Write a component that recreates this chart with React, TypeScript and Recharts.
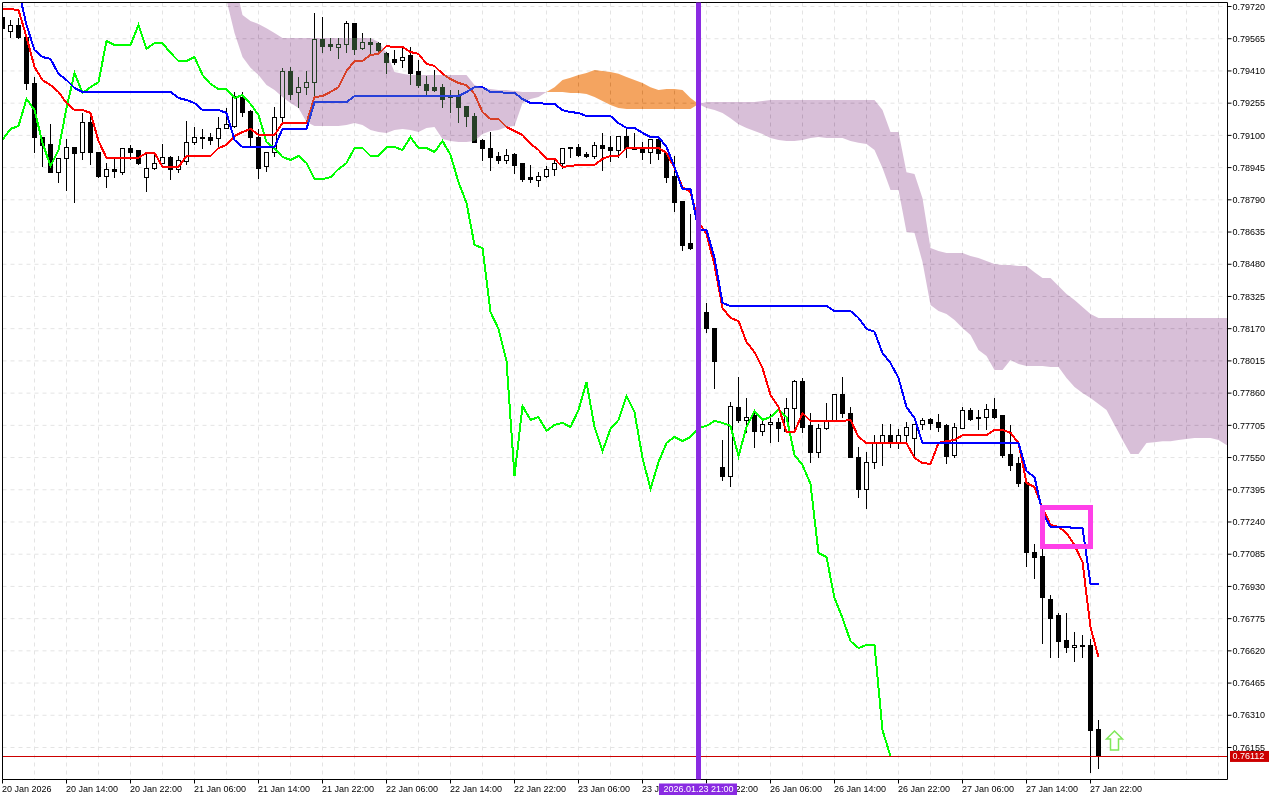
import React from 'react';
import { ComposedChart, Bar, Line, Area, XAxis, YAxis, CartesianGrid, ReferenceLine, ReferenceArea, ReferenceDot } from 'recharts';

// All prices are quoted in points (1 point = 0.00001).
const openPts = [
79665,79602,79631,79573,79352,79092,79054,78923,78987,79044,
79016,79164,79016,78904,78938,78923,79035,79025,78899,78943,
78963,78992,78938,78972,79064,79083,79088,79083,79131,79145,
79280,79217,79092,78948,79016,79188,79405,79304,79332,79356,
79559,79535,79525,79535,79636,79516,79549,79540,79492,79463,
79458,79482,79405,79347,79328,79328,79280,79294,79241,79193,
79073,79039,78996,78977,79006,78963,78899,78885,78904,78938,
78963,79035,79044,79006,78996,79049,79044,79025,79097,79039,
79039,79016,79078,79011,78904,78784,78578,78558,78250,78169,
77504,77461,77793,77726,77750,77673,77707,77721,77673,77788,
77918,77702,77576,77688,77726,77851,77764,77552,77394,77528,
77620,77654,77624,77654,77644,77707,77731,77717,77702,77562,
77692,77774,77736,77745,77779,77750,77567,77519,77428,77091,
77076,76865,76788,76672,76638,76643,76648,76244];
const closePts = [
79612,79631,79573,79352,79088,79049,78923,78987,79044,79011,
79164,79016,78904,78938,78928,79035,79020,78963,78943,78963,
78992,78938,78977,79064,79088,79088,79073,79131,79150,79285,
79212,79092,78943,79016,79188,79405,79299,79332,79356,79559,
79530,79530,79535,79636,79511,79549,79535,79506,79453,79453,
79477,79396,79342,79318,79318,79275,79294,79236,79193,79068,
79035,78992,78977,79001,78953,78890,78890,78904,78938,78967,
79035,79044,79001,78996,79049,79039,79025,79097,79035,79030,
79016,79078,79011,78899,78779,78568,78558,78250,78169,78014,
77461,77798,77726,77745,77673,77707,77721,77692,77788,77918,
77697,77576,77688,77726,77851,77764,77548,77394,77528,77620,
77654,77624,77654,77697,77707,77726,77712,77697,77557,77697,
77774,77731,77745,77779,77745,77562,77514,77423,77091,77071,
76875,76778,76667,76634,76648,76648,76239,76112];
const highPts = [
79665,79655,79660,79573,79377,79092,79150,78987,79078,79044,
79203,79212,79016,78963,78982,79039,79049,79025,79006,79006,
79054,78996,78996,79169,79136,79126,79107,79188,79227,79304,
79304,79222,79126,79016,79236,79420,79425,79377,79405,79684,
79665,79568,79568,79650,79636,79588,79568,79549,79497,79506,
79516,79525,79458,79381,79410,79347,79318,79318,79241,79203,
79078,79112,79020,79030,79011,78963,78953,78923,78948,78977,
79039,79044,79054,79020,79064,79107,79097,79097,79136,79107,
79064,79078,79092,79020,78996,78784,78717,78568,78289,78169,
77634,77817,77933,77832,77769,77740,77755,77736,77832,77923,
77928,77764,77707,77812,77851,77933,77793,77600,77576,77654,
77707,77707,77683,77721,77707,77736,77740,77755,77707,77712,
77793,77784,77774,77807,77836,77750,77702,77548,77428,77134,
77110,76884,76798,76798,76706,76696,76677,76287];
const lowPts = [
79612,79573,79564,79323,79016,78948,78923,78875,78837,78775,
78982,78958,78899,78851,78899,78914,78982,78958,78832,78938,
78963,78890,78923,78958,79054,79039,79054,79039,79131,79136,
79193,79044,78894,78928,78996,79159,79275,79232,79299,79289,
79501,79506,79468,79497,79487,79511,79492,79487,79396,79439,
79425,79347,79332,79294,79309,79232,79208,79164,79145,79068,
78977,78933,78963,78967,78919,78880,78871,78856,78899,78909,
78943,78992,78996,78992,78987,78933,78972,78992,78992,79030,
78982,78967,78982,78875,78736,78544,78553,78236,78150,77880,
77442,77413,77721,77669,77600,77654,77624,77629,77669,77673,
77669,77524,77552,77683,77726,77745,77548,77360,77303,77495,
77514,77600,77595,77624,77562,77683,77683,77673,77519,77552,
77688,77726,77683,77683,77740,77552,77490,77413,77028,76966,
76657,76590,76590,76614,76571,76586,76037,76052];

const tenkanPts = [
79708,79708,79703,79573,79429,79366,79342,79309,79256,79222,
79222,79208,79073,78992,78992,78992,78992,78992,79016,79016,
78948,78948,78948,79001,79001,79001,79001,79039,79054,79097,
79116,79131,79102,79102,79102,79159,79159,79159,79159,79285,
79289,79309,79332,79410,79458,79458,79487,79492,79530,79525,
79525,79501,79492,79444,79434,79396,79371,79352,79342,79299,
79212,79179,79179,79140,79121,79102,79059,79030,78987,78987,
78948,78953,78958,78958,78958,78987,79001,79001,79039,79039,
79039,79039,79039,79016,78943,78851,78827,78683,78626,78476,
78270,78222,78207,78106,78057,77981,77851,77793,77673,77673,
77764,77726,77726,77726,77726,77726,77731,77649,77620,77620,
77620,77620,77620,77620,77548,77524,77519,77620,77629,77634,
77658,77658,77658,77658,77683,77683,77669,77620,77428,77408,
77307,77226,77216,77187,77129,77047,76734,76590];
const kijunPts = [
79943,79895,79799,79631,79511,79477,79468,79396,79366,79328,
79309,79309,79309,79309,79309,79309,79309,79309,79309,79309,
79309,79309,79280,79270,79256,79222,79222,79222,79208,79078,
79044,79044,79044,79044,79044,79131,79131,79131,79131,79260,
79260,79260,79260,79260,79289,79289,79289,79289,79289,79289,
79289,79289,79289,79289,79289,79289,79289,79289,79309,79332,
79332,79309,79309,79304,79304,79275,79256,79256,79251,79251,
79222,79212,79208,79193,79193,79193,79193,79159,79136,79136,
79112,79092,79092,79044,78948,78841,78841,78645,78645,78510,
78294,78279,78279,78279,78279,78279,78279,78279,78279,78279,
78279,78279,78279,78279,78255,78255,78255,78222,78169,78155,
78053,78005,77933,77793,77740,77620,77620,77620,77620,77620,
77620,77620,77620,77620,77620,77620,77620,77620,77485,77456,
77284,77216,77216,77216,77211,77211,76942,76942];
const chikouPts = [
79078,79131,79145,79275,79222,79064,78953,79030,79232,79400,
79304,79332,79356,79554,79535,79535,79535,79631,79516,79544,
79544,79497,79458,79458,79477,79391,79347,79323,79323,79280,
79294,79251,79198,79068,79039,78996,78982,79001,78967,78890,
78890,78899,78938,78967,79039,79039,79001,79001,79044,79044,
79030,79092,79039,79039,79020,79073,79006,78875,78775,78573,
78558,78250,78169,78014,77461,77798,77731,77745,77678,77707,
77717,77697,77779,77913,77697,77581,77688,77731,77846,77769,
77548,77399,77528,77620,77649,77629,77649,77692,77702,77726,
77717,77702,77557,77697,77774,77731,77745,77779,77745,77562,
77514,77423,77091,77071,76875,76778,76667,76634,76648,76648,
76239,76112];

// Cloud edges: first purple stretch starts at bar 27, orange at bar 68, second purple at bar 87.
const purpleHighA = [
80136,79992,79847,79679,79650,79636,79616,79592,79568,
79568,79568,79568,79568,79568,79568,79568,79568,79568,79568,79568,
79549,79497,79405,79396,79391,79391,79391,79391,79391,79391,79391,79391,
79342,79328,79323,79318,79318,79313,79309,79309,79309,79309];
const purpleLowA = [
79871,79751,79592,79477,79425,79391,79342,79318,79285,79256,79232,79164,
79145,79145,79145,79145,79150,79159,79150,79126,79116,79112,79126,79131,
79126,79116,79136,79140,79083,79073,79068,79068,79073,79107,79121,79126,
79140,79145,79256,79275,79285,79309];
const orangeHigh = [
79309,79332,79366,79377,79391,79400,79415,79410,79405,79396,
79381,79366,79352,79332,79318,79323,79323,79318,79280,79251];
const orangeLow = [
79309,79309,79309,79304,79304,79299,79285,79265,79246,79232,
79227,79227,79227,79227,79227,79227,79227,79227,79227,79251];
const purpleHighB = [
79251,79260,79260,79260,79260,79260,79260,79260,79265,79270,
79270,79270,79270,79270,79270,79270,79270,79270,79270,79270,79270,79270,79270,
79222,79116,79116,78923,78914,78798,78558,78544,78534,78534,78534,78520,78510,
78496,78481,78476,78476,78471,78471,78442,78414,78414,78375,78337,78308,78274,78241,
78222,78222,78222,78222,78222,78222,78222,78222,78222,78222,78222,78222,78222,78222,78222,78222,78222,78222];
const purpleLowB = [
79251,79232,79222,79208,79183,79154,79136,79121,79107,79088,79078,79073,79073,79078,
79088,79092,79088,79088,79088,79073,79064,79059,79030,78943,78837,78837,78635,78630,
78491,78284,78255,78241,78212,78173,78140,78067,78038,77971,77971,78019,78000,77990,
77990,77990,77986,77986,77933,77890,77861,77837,77808,77779,77707,77634,77567,77567,
77620,77624,77629,77629,77634,77639,77644,77644,77644,77634,77610,77605];

const priceTicks = [
0.7972,0.79565,0.7941,0.79255,0.791,0.78945,0.7879,0.78635,0.7848,0.78325,0.7817,0.78015,
0.7786,0.77705,0.7755,0.77395,0.7724,0.77085,0.7693,0.76775,0.7662,0.76465,0.7631,0.76155];
const timeLabels = [
'20 Jan 2026','20 Jan 14:00','20 Jan 22:00','21 Jan 06:00','21 Jan 14:00','21 Jan 22:00',
'22 Jan 06:00','22 Jan 14:00','22 Jan 22:00','23 Jan 06:00','23 Jan 14:00','23 Jan 22:00',
'26 Jan 06:00','26 Jan 14:00','26 Jan 22:00','27 Jan 06:00','27 Jan 14:00','27 Jan 22:00'];
const timeTickBars = timeLabels.map((_, k) => k * 8);
const gridBars = Array.from({ length: 39 }, (_, k) => k * 4);

const PRICE_TOP = 0.797393;
const PRICE_BOTTOM = 0.760011;
const BAR_DOMAIN_END = 153.125;
const lastPrice = 0.76112;
const lastPriceText = '0.76112';
const markerBar = 87;
const markerText = '2026.01.23 21:00';
const arrowBar = 139;
const arrowPrice = 0.76186;
const boxBars = [130, 136];
const boxPrices = [0.7731, 0.77122];

const FONT = '"Liberation Sans", Arial, sans-serif';
const pts = (a: number[], i: number, start = 0) => {
  const v = a[i - start];
  return v === undefined ? null : v / 100000;
};
const range = (hi: number | null, lo: number | null) => (hi === null || lo === null ? null : [lo, hi]);

const rows = Array.from({ length: 155 }, (_, i) => {
  const open = pts(openPts, i), close = pts(closePts, i), high = pts(highPts, i), low = pts(lowPts, i);
  return {
    bar: i, open, close, high, low,
    candle: range(high, low),
    tenkan: pts(tenkanPts, i),
    kijun: pts(kijunPts, i),
    chikou: pts(chikouPts, i),
    purple: i <= 68 ? range(pts(purpleHighA, i, 27), pts(purpleLowA, i, 27)) : range(pts(purpleHighB, i, 87), pts(purpleLowB, i, 87)),
    orange: range(pts(orangeHigh, i, 68), pts(orangeLow, i, 68)),
  };
});

const Candle = (p: any) => {
  const { x, y, width, height, payload } = p;
  if (!payload || payload.high === null || !height) return null;
  const k = height / (payload.high - payload.low);
  const cx = Math.floor(x + width / 2) + 0.5;
  const yOf = (v: number) => Math.round(y + (payload.high - v) * k - 0.5) + 0.5;
  const hi = yOf(payload.high), lo = yOf(payload.low);
  const top = yOf(Math.max(payload.open, payload.close));
  const bot = yOf(Math.min(payload.open, payload.close));
  const up = payload.close > payload.open;
  return (
    <g shapeRendering="crispEdges">
      <line x1={cx} x2={cx} y1={hi - 0.5} y2={lo + 0.5} stroke="#000" strokeWidth={1} />
      <rect x={cx - 2} y={top} width={4} height={Math.max(bot - top, 1)} fill={up ? '#fff' : '#000'} stroke="#000" strokeWidth={1} />
    </g>
  );
};

const TimeTick = (p: any) => {
  const k = timeTickBars.indexOf(p.payload.value);
  return (
    <text x={p.x - 0.5} y={p.y + 6} textAnchor="start" fontSize={9} fontFamily={FONT} fill="#000">
      {timeLabels[k]}
    </text>
  );
};

const MarkerTag = (p: any) => {
  const v = p.viewBox;
  const cx = v.x + (v.width || 0) / 2;
  const b = v.y + v.height;
  return (
    <g>
      <rect x={cx - 39.5} y={b + 4} width={78} height={11.5} fill="#8a2be2" />
      <text x={cx} y={b + 12.8} textAnchor="middle" fontSize={9} fontFamily={FONT} fill="#fff">{markerText}</text>
    </g>
  );
};

const PriceTag = (p: any) => {
  const v = p.viewBox;
  const right = v.x + v.width;
  return (
    <g>
      <rect x={right + 2.5} y={v.y - 5.5} width={39} height={11} fill="#cc0000" />
      <text x={right + 5} y={v.y + 3} textAnchor="start" fontSize={9} fontFamily={FONT} fill="#fff">{lastPriceText}</text>
    </g>
  );
};

const UpArrow = (p: any) => {
  const { cx, cy } = p;
  const pts = [[0, -10], [8, -2], [4, -2], [4, 9], [-4, 9], [-4, -2], [-8, -2]]
    .map(([a, b]) => `${cx + a},${cy + b}`).join(' ');
  return <polygon points={pts} fill="#fff" stroke="#7fe85a" strokeWidth={1.5} />;
};

export default function App() {
  return (
    <div style={{ position: 'absolute', left: 0, top: 0, width: 1280, height: 800, background: '#fff', isolation: 'isolate' }}>
      <style>{`.xor-cloud{mix-blend-mode:difference}`}</style>
      <ComposedChart
        width={1280}
        height={800}
        data={rows}
        margin={{ top: 2.5, left: 2.5, right: 0, bottom: 0 }}
      >
        <CartesianGrid
          stroke="#e4e4e4"
          strokeDasharray="4 4"
          verticalValues={gridBars}
          horizontalValues={priceTicks}
          syncWithTicks={false}
        />
        <XAxis
          dataKey="bar"
          type="number"
          domain={[0, BAR_DOMAIN_END]}
          allowDataOverflow
          ticks={timeTickBars}
          interval={0}
          height={20.5}
          tick={<TimeTick />}
          tickSize={4}
          stroke="#000"
        />
        <YAxis
          type="number"
          orientation="right"
          width={52.5}
          domain={[PRICE_BOTTOM, PRICE_TOP]}
          allowDataOverflow
          ticks={priceTicks}
          interval={0}
          tickFormatter={(v: number) => v.toFixed(5)}
          tick={{ fontSize: 9, fontFamily: FONT, fill: '#000' }}
          tickSize={4}
          tickMargin={1}
          stroke="#000"
        />
        <Bar dataKey="candle" barSize={5} shape={<Candle />} isAnimationActive={false} zIndex={200} />
        <Line dataKey="chikou" type="linear" dot={false} stroke="#00ff00" strokeWidth={2} isAnimationActive={false} zIndex={210} shapeRendering="crispEdges" />
        <Line dataKey="tenkan" type="linear" dot={false} stroke="#ff0000" strokeWidth={2} isAnimationActive={false} zIndex={211} shapeRendering="crispEdges" />
        <Line dataKey="kijun" type="linear" dot={false} stroke="#0000ff" strokeWidth={2} isAnimationActive={false} zIndex={212} shapeRendering="crispEdges" />
        <Area className="xor-cloud" dataKey="purple" type="linear" stroke="none" fill="#274027" fillOpacity={1} dot={false} activeDot={false} isAnimationActive={false} zIndex={300} />
        <Area className="xor-cloud" dataKey="orange" type="linear" stroke="none" fill="#0b5b9f" fillOpacity={1} dot={false} activeDot={false} isAnimationActive={false} zIndex={301} />
        <ReferenceLine y={PRICE_TOP} stroke="#000" strokeWidth={1} ifOverflow="visible" zIndex={400} />
        <ReferenceLine x={0} stroke="#000" strokeWidth={1} ifOverflow="visible" zIndex={400} />
        <ReferenceLine y={lastPrice} stroke="#cc0000" strokeWidth={1} shapeRendering="crispEdges" label={<PriceTag />} zIndex={400} />
        <ReferenceArea x1={boxBars[0]} x2={boxBars[1]} y1={boxPrices[0]} y2={boxPrices[1]} fill="none" stroke="#ff3fe8" strokeWidth={5} zIndex={450} />
        <ReferenceDot x={arrowBar} y={arrowPrice} r={8} shape={<UpArrow />} zIndex={450} />
        <ReferenceLine x={markerBar} stroke="#8a2be2" strokeWidth={5} label={<MarkerTag />} zIndex={5000} />
      </ComposedChart>
    </div>
  );
}
